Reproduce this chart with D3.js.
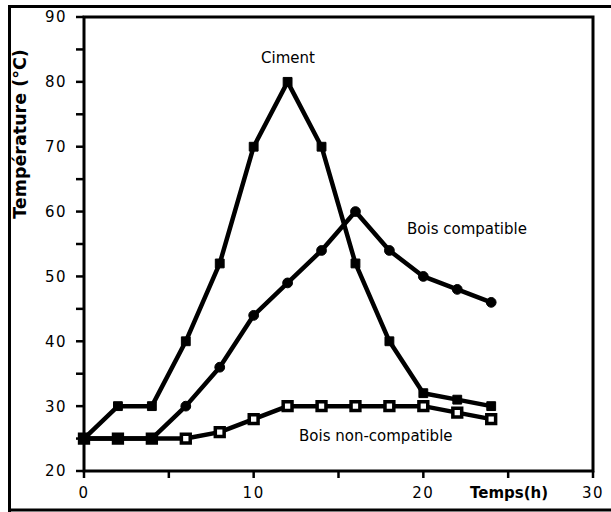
<!DOCTYPE html>
<html>
<head>
<meta charset="utf-8">
<script src="https://cdn.jsdelivr.net/npm/d3@7"></script>
<style>
  body { margin: 0; background: #fff; }
  svg text { font-family: "DejaVu Sans", sans-serif; fill: #000; }
</style>
</head>
<body>
<script>
/* Temperature over time for three materials */
var hours = [0, 2, 4, 6, 8, 10, 12, 14, 16, 18, 20, 22, 24];
var ciment = [25, 30, 30, 40, 52, 70, 80, 70, 52, 40, 32, 31, 30];
var boisCompatible = [25, 25, 25, 30, 36, 44, 49, 54, 60, 54, 50, 48, 46];
var boisNonCompatible = [25, 25, 25, 25, 26, 28, 30, 30, 30, 30, 30, 29, 28];
var xTicks = [0, 10, 20, 30];
var yTicks = [20, 30, 40, 50, 60, 70, 80, 90];

var W = 611, H = 512;
var plotLeft = 84, plotRight = 593, plotTop = 17, plotBottom = 471;

var svg = d3.select('body').append('svg')
	.attr('width', W).attr('height', H);

var x = d3.scaleLinear().domain([0, 30]).range([plotLeft, plotRight]);
var y = d3.scaleLinear().domain([20, 90]).range([plotBottom, plotTop]);

// outer frame
svg.append('path')
	.attr('d', 'M9.5,' + (H + 5) + ' V6.5 H' + (W + 5))
	.attr('fill', 'none').attr('stroke', '#000').attr('stroke-width', 3);
svg.append('line')
	.attr('x1', 9).attr('x2', W).attr('y1', 510).attr('y2', 510)
	.attr('stroke', '#000').attr('stroke-width', 3);

// plot box
svg.append('rect')
	.attr('x', plotLeft).attr('y', plotTop)
	.attr('width', plotRight - plotLeft).attr('height', plotBottom - plotTop)
	.attr('fill', 'none').attr('stroke', '#000').attr('stroke-width', 3);

// y ticks (major + minor)
var yAxis = svg.append('g').attr('transform', 'translate(' + plotLeft + ',0)');
yAxis.selectAll('line.tick')
	.data(d3.range(20, 91, 5))
	.enter().append('line')
	.attr('x1', -8).attr('x2', 0)
	.attr('y1', function(d){ return y(d); })
	.attr('y2', function(d){ return y(d); })
	.attr('stroke', '#000').attr('stroke-width', 2.5);
yAxis.selectAll('text')
	.data(yTicks)
	.enter().append('text')
	.attr('x', -17)
	.attr('y', function(d){ return y(d); })
	.attr('dy', '0.36em')
	.attr('text-anchor', 'end')
	.style('font-size', '15px')
	.style('letter-spacing', '1.5px')
	.text(function(d){ return d; });

// x ticks
var xAxis = svg.append('g').attr('transform', 'translate(0,' + plotBottom + ')');
xAxis.selectAll('line.tick')
	.data(d3.range(0, 31, 5))
	.enter().append('line')
	.attr('y1', 0).attr('y2', 7)
	.attr('x1', function(d){ return x(d); })
	.attr('x2', function(d){ return x(d); })
	.attr('stroke', '#000').attr('stroke-width', 2.5);
xAxis.selectAll('text')
	.data(xTicks)
	.enter().append('text')
	.attr('x', function(d){ return x(d); })
	.attr('y', 27)
	.attr('text-anchor', 'middle')
	.style('font-size', '15px')
	.style('letter-spacing', '1.5px')
	.text(function(d){ return d; });

svg.append('text')
	.attr('x', 470).attr('y', 498)
	.style('font-size', '15px').style('font-weight', 'bold')
	.text('Temps(h)');

svg.append('text')
	.attr('transform', 'translate(26,134) rotate(-90)')
	.attr('text-anchor', 'middle')
	.style('font-size', '17.5px').style('font-weight', 'bold')
	.text('Température (°C)');

// series
var line = d3.line()
	.x(function(d){ return x(d[0]); })
	.y(function(d){ return y(d[1]); });

function series(values, marker){
	var pts = hours.map(function(h, i){ return [h, values[i]]; });
	var g = svg.append('g');
	g.append('path').datum(pts)
		.attr('d', line)
		.attr('fill', 'none').attr('stroke', '#000')
		.attr('stroke-width', 4.5).attr('stroke-linejoin', 'round');
	var sym = d3.symbol().type(marker === 'circle' ? d3.symbolCircle : d3.symbolSquare)
		.size(marker === 'circle' ? 75 : 78);
	g.selectAll('path.pt').data(pts).enter().append('path')
		.attr('transform', function(d){ return 'translate(' + x(d[0]) + ',' + y(d[1]) + ')'; })
		.attr('d', sym)
		.attr('fill', marker === 'open' ? '#fff' : '#000')
		.attr('stroke', '#000')
		.attr('stroke-width', marker === 'open' ? 3.5 : 1);
}
series(boisNonCompatible, 'open');
series(boisCompatible, 'circle');
series(ciment, 'square');

// labels
svg.append('text').attr('x', 288).attr('y', 63).attr('text-anchor', 'middle')
	.style('font-size', '15px').text('Ciment');
svg.append('text').attr('x', 407).attr('y', 234)
	.style('font-size', '15px').text('Bois compatible');
svg.append('text').attr('x', 299).attr('y', 441)
	.style('font-size', '15px').text('Bois non-compatible');
</script>
</body>
</html>
